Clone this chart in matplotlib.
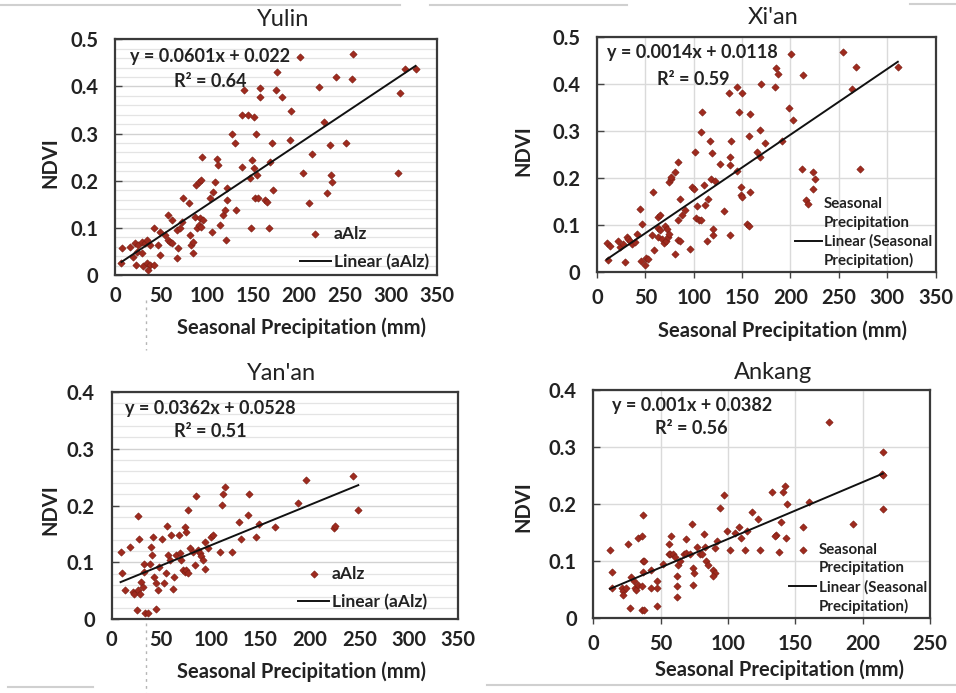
import numpy as np
import matplotlib.pyplot as plt
from matplotlib.lines import Line2D

plt.rcParams['font.family'] = ['Lato', 'DejaVu Sans']

# Yulin
yulin_precip = [8, 7, 16, 22, 25, 29, 33, 35, 38, 24, 29, 20, 23, 31, 35, 38, 42, 36, 49, 47,
                42, 49, 54, 58, 60, 62, 58, 62, 67, 71, 69, 67, 73, 74, 80, 82, 83, 85, 85, 87,
                89, 91, 93, 88, 91, 94, 95, 96, 94, 103, 105, 107, 109, 111, 112, 114, 118, 120, 122, 121,
                122, 127, 131, 132, 138, 138, 140, 145, 147, 148, 149, 151, 151, 152, 153, 154, 156, 158, 158, 163,
                165, 168, 171, 172, 175, 176, 201, 259, 240, 258, 316, 327, 182, 222, 310, 192, 227, 190, 234, 251,
                214, 169, 205, 235, 236, 308, 231, 211]
yulin_ndvi = [0.057, 0.025, 0.060, 0.067, 0.064, 0.071, 0.067, 0.074, 0.064, 0.049, 0.046, 0.039, 0.021, 0.018, 0.025, 0.021, 0.021, 0.011, 0.042, 0.064,
              0.099, 0.092, 0.085, 0.074, 0.071, 0.067, 0.127, 0.117, 0.095, 0.099, 0.057, 0.035, 0.113, 0.163, 0.152, 0.085, 0.064, 0.071, 0.046, 0.124,
              0.099, 0.106, 0.120, 0.191, 0.198, 0.201, 0.251, 0.117, 0.102, 0.163, 0.092, 0.177, 0.198, 0.247, 0.233, 0.106, 0.127, 0.138, 0.184, 0.074,
              0.159, 0.300, 0.279, 0.138, 0.230, 0.339, 0.392, 0.339, 0.205, 0.100, 0.244, 0.336, 0.226, 0.163, 0.300, 0.212, 0.163, 0.396, 0.378, 0.159,
              0.155, 0.100, 0.279, 0.180, 0.392, 0.431, 0.463, 0.468, 0.419, 0.415, 0.436, 0.436, 0.378, 0.399, 0.387, 0.348, 0.324, 0.286, 0.276, 0.279,
              0.256, 0.240, 0.216, 0.212, 0.197, 0.216, 0.173, 0.153]
yulin_fit = [0.0013, 0.0185]

# Xi'an
xian_precip = [10, 13.5, 11, 22, 24, 27, 31, 32, 34, 36, 39, 41, 29, 44.5, 46, 45.5, 50, 51, 53, 57,
               58, 59, 63.5, 65, 63.5, 65, 63.5, 67, 70, 72, 69, 71, 73, 74.5, 74, 76, 77, 81, 83.5, 81,
               83.5, 86, 86, 88, 84, 91, 96, 98, 100, 101, 103, 102, 105, 107, 108, 109, 111, 112, 113.5, 115,
               117, 118, 119, 119.5, 120, 122, 127, 131, 136, 137, 137, 138, 139, 145, 145, 147, 149, 150, 149, 150,
               155, 157, 158, 157, 158, 169, 170, 201, 254, 185, 187, 268, 311, 213, 183.5, 263.5, 199, 203, 174, 191,
               165, 169, 212, 223, 225, 271.5, 223, 216]
xian_ndvi = [0.061, 0.054, 0.025, 0.064, 0.053, 0.059, 0.073, 0.070, 0.066, 0.059, 0.063, 0.081, 0.021, 0.133, 0.102, 0.023, 0.013, 0.028, 0.026, 0.077,
             0.170, 0.045, 0.116, 0.120, 0.093, 0.088, 0.073, 0.070, 0.098, 0.091, 0.061, 0.066, 0.073, 0.081, 0.191, 0.198, 0.202, 0.213, 0.233, 0.038,
             0.068, 0.066, 0.155, 0.121, 0.109, 0.131, 0.048, 0.180, 0.177, 0.255, 0.140, 0.114, 0.109, 0.109, 0.298, 0.340, 0.185, 0.141, 0.066, 0.155,
             0.278, 0.198, 0.252, 0.077, 0.091, 0.193, 0.230, 0.129, 0.380, 0.227, 0.245, 0.077, 0.278, 0.393, 0.214, 0.340, 0.180, 0.380, 0.163, 0.159,
             0.102, 0.098, 0.335, 0.288, 0.170, 0.302, 0.400, 0.464, 0.468, 0.434, 0.421, 0.437, 0.437, 0.418, 0.393, 0.390, 0.348, 0.323, 0.275, 0.279,
             0.255, 0.245, 0.218, 0.213, 0.197, 0.218, 0.175, 0.153]
xian_fit = [0.0014, 0.0118]

# Yan'an
yanan_precip = [9, 10, 13, 19, 21.5, 23, 26.5, 27, 28, 29, 30, 31.5, 32.5, 33, 26, 34, 36.5, 45, 40, 41,
                39, 42, 43, 45, 47, 48, 51, 53, 55, 56, 57, 58.5, 60, 62, 63, 65, 67.5, 68.5, 70, 72,
                74, 75, 77, 74, 75, 77, 79, 82, 84, 85.5, 87, 89, 90.5, 92, 94, 94, 97, 100.5, 102, 109,
                111, 112, 114, 121, 129, 131, 137.5, 139, 146, 149, 164.5, 188, 196, 224, 226, 244, 249]
yanan_ndvi = [0.119, 0.081, 0.051, 0.127, 0.048, 0.045, 0.051, 0.181, 0.142, 0.045, 0.066, 0.057, 0.098, 0.084, 0.016, 0.011, 0.011, 0.019, 0.127, 0.113,
              0.098, 0.145, 0.075, 0.063, 0.051, 0.092, 0.142, 0.063, 0.081, 0.164, 0.113, 0.104, 0.148, 0.054, 0.075, 0.113, 0.148, 0.116, 0.104, 0.087,
              0.084, 0.087, 0.081, 0.163, 0.154, 0.192, 0.125, 0.119, 0.095, 0.217, 0.122, 0.116, 0.111, 0.104, 0.088, 0.136, 0.125, 0.145, 0.148, 0.119,
              0.201, 0.221, 0.233, 0.119, 0.171, 0.142, 0.183, 0.221, 0.145, 0.168, 0.163, 0.205, 0.244, 0.161, 0.164, 0.252, 0.192]
yanan_fit = [0.00071, 0.059]

# Ankang
ankang_precip = [12.4, 13.6, 13.6, 21, 22, 22, 24, 26, 27, 28, 30, 31, 32, 33, 36, 38, 33, 36, 37, 37,
                 38, 37, 36, 43, 43, 47, 47, 47, 52, 56, 56.5, 57.5, 57, 59, 61, 62.4, 62.4, 62.4, 63, 64.4,
                 67, 69, 69, 72, 73, 74, 75, 74, 77, 79, 80.5, 82, 83, 84, 85, 89, 90, 89, 90, 92,
                 94, 97, 99, 101.5, 105, 108, 110, 113, 114, 118, 122.5, 124, 175, 215, 214, 215, 215, 132.5, 140.5, 142,
                 144, 160, 139, 155.5, 192.6, 136, 135, 143, 138]
ankang_ndvi = [0.119, 0.081, 0.052, 0.052, 0.046, 0.040, 0.053, 0.129, 0.017, 0.071, 0.064, 0.052, 0.049, 0.058, 0.014, 0.014, 0.140, 0.143, 0.180, 0.099,
               0.100, 0.081, 0.055, 0.052, 0.084, 0.064, 0.052, 0.020, 0.094, 0.112, 0.129, 0.143, 0.111, 0.111, 0.106, 0.073, 0.056, 0.036, 0.093, 0.100,
               0.111, 0.139, 0.113, 0.112, 0.165, 0.087, 0.078, 0.058, 0.124, 0.111, 0.111, 0.147, 0.125, 0.099, 0.093, 0.084, 0.078, 0.073, 0.122, 0.134,
               0.193, 0.216, 0.152, 0.119, 0.149, 0.160, 0.140, 0.119, 0.152, 0.186, 0.173, 0.119, 0.344, 0.291, 0.252, 0.250, 0.191, 0.220, 0.221, 0.232,
               0.200, 0.204, 0.168, 0.160, 0.165, 0.146, 0.143, 0.140, 0.116]
ankang_fit = [0.001, 0.0382]

MARKER = '#9e2a1e'
EDGE = '#7a1d12'
TXT = '#222222'


def draw_panel(ax, title, px, py, fit, eq, r2, series, xmax, ymax, style, pos):
    px = np.array(px)
    py = np.array(py)
    ax.set_xlim(0, xmax)
    ax.set_ylim(0, ymax)
    ax.set_xticks(np.arange(0, xmax + 1, 50))

    if style == 'dense':
        ax.set_yticks(np.arange(0, ymax + 0.001, 0.02), minor=True)
        ax.grid(True, axis='y', which='minor', color='#e4e4e4', lw=0.9)
        ax.grid(True, axis='y', which='major', color='#d2d2d2', lw=1.0)
        ax.tick_params(axis='y', which='minor', length=0)
        ax.tick_params(axis='x', length=0)
    else:
        ax.grid(True, which='major', color='#dadada', lw=1.0)
        ax.tick_params(axis='x', direction='out', length=4, width=1, color='#444444')
    ax.set_axisbelow(True)

    pts = ax.scatter(px, py, marker='D', s=14, color=MARKER, edgecolor=EDGE, linewidth=0.4, zorder=3)
    xs = np.array([px.min(), px.max()])
    trend, = ax.plot(xs, fit[0] * xs + fit[1], color='#111111', lw=1.4, zorder=4)

    ax.tick_params(axis='y', which='major', direction='in', length=5, width=1, color='#444444')
    ax.set_yticks(np.arange(0, ymax + 0.001, 0.1))
    ax.set_yticklabels(['0'] + ['%.1f' % v for v in np.arange(0.1, ymax + 0.001, 0.1)])
    ax.set_xticklabels([str(v) for v in range(0, xmax + 1, 50)])
    for t in ax.get_xticklabels() + ax.get_yticklabels():
        t.set_fontweight('bold')
        t.set_fontsize(14.5)
        t.set_color(TXT)
    ax.tick_params(axis='y', pad=12)
    ax.tick_params(axis='x', pad=8)

    for s in ax.spines.values():
        s.set_color('#3a3a3a')
        s.set_linewidth(1.6)

    ax.text(pos['title'][0], pos['title'][1], title, transform=ax.transAxes, ha='center', va='center',
            fontsize=17, color=TXT)
    ax.set_xlabel('Seasonal Precipitation (mm)', fontsize=14.5, fontweight='bold', color=TXT, va='center')
    ax.xaxis.set_label_coords(*pos['xlabel'])
    ax.set_ylabel('NDVI', fontsize=14.5, fontweight='bold', color=TXT, va='center')
    ax.yaxis.set_label_coords(*pos['ylabel'])

    ax.text(pos['eq'][0], pos['eq'][1], eq, transform=ax.transAxes, ha='left', va='center',
            fontsize=13, fontweight='bold', color=TXT)
    ax.text(pos['r2'][0], pos['r2'][1], 'R² = ' + r2, transform=ax.transAxes, ha='center', va='center',
            fontsize=13, fontweight='bold', color=TXT)

    # long series names wrap onto a second legend row
    if ' ' in series:
        first, second = series.split(' ')
        blank = Line2D([], [], linestyle='none')
        handles = [pts, blank, trend, blank]
        labels = [first, second, 'Linear (' + first, second + ')']
    else:
        handles = [pts, trend]
        labels = [series, 'Linear (' + series + ')']
    leg = ax.legend(handles, labels, loc='lower right', bbox_to_anchor=pos['legend'], frameon=False,
                    handlelength=1.8, handletextpad=0.15, labelspacing=pos['spacing'],
                    borderaxespad=0, borderpad=0, scatteryoffsets=[0.4],
                    prop={'family': 'Lato', 'weight': 'bold', 'size': pos['legsize']})
    for t in leg.get_texts():
        t.set_color(TXT)


fig = plt.figure(figsize=(9.56, 6.93), dpi=100)

ax1 = fig.add_axes([0.1203, 0.6032, 0.3365, 0.3401])
draw_panel(ax1, 'Yulin', yulin_precip, yulin_ndvi, yulin_fit, 'y = 0.0601x + 0.022', '0.64', 'aAlz',
           350, 0.5, 'dense',
           {'title': (0.522, 1.082), 'xlabel': (0.581, -0.225), 'ylabel': (-0.202, 0.475),
            'eq': (0.047, 0.925), 'r2': (0.295, 0.823), 'legend': (0.975, 0.02),
            'spacing': 0.7, 'legsize': 12.5})

ax2 = fig.add_axes([0.6245, 0.6082, 0.3541, 0.3384])
draw_panel(ax2, "Xi'an", xian_precip, xian_ndvi, xian_fit, 'y = 0.0014x + 0.0118', '0.59',
           'Seasonal Precipitation', 350, 0.5, 'grid',
           {'title': (0.52, 1.085), 'xlabel': (0.549, -0.252), 'ylabel': (-0.219, 0.517),
            'eq': (0.03, 0.932), 'r2': (0.284, 0.82), 'legend': (0.99, 0.013),
            'spacing': 0.3, 'legsize': 10.8})

ax3 = fig.add_axes([0.1168, 0.1063, 0.3626, 0.3285])
draw_panel(ax3, "Yan'an", yanan_precip, yanan_ndvi, yanan_fit, 'y = 0.0362x + 0.0528', '0.51', 'aAlz',
           350, 0.4, 'dense',
           {'title': (0.491, 1.082), 'xlabel': (0.549, -0.232), 'ylabel': (-0.178, 0.48),
            'eq': (0.039, 0.928), 'r2': (0.284, 0.827), 'legend': (0.91, 0.04),
            'spacing': 0.7, 'legsize': 12.5})

ax4 = fig.add_axes([0.6206, 0.1087, 0.3522, 0.3285])
draw_panel(ax4, 'Ankang', ankang_precip, ankang_ndvi, ankang_fit, 'y = 0.001x + 0.0382', '0.56',
           'Seasonal Precipitation', 250, 0.4, 'grid',
           {'title': (0.534, 1.075), 'xlabel': (0.554, -0.23), 'ylabel': (-0.209, 0.486),
            'eq': (0.055, 0.934), 'r2': (0.29, 0.833), 'legend': (0.991, 0.016),
            'spacing': 0.3, 'legsize': 10.8})

# thin page edges and the dotted guide running down the left column
W, H = 956.0, 693.0
for x0, x1, yy in [(0, 400, 5), (430, 627, 5), (910, 956, 4), (8, 93, 687), (487, 956, 685)]:
    fig.add_artist(Line2D([x0 / W, x1 / W], [1 - yy / H, 1 - yy / H], color='#d0d0d0', lw=1.5, zorder=0))
for y0, y1 in [(300, 350), (623, 693)]:
    fig.add_artist(Line2D([146 / W, 146 / W], [1 - y0 / H, 1 - y1 / H], color='#b5b5b5', lw=1,
                          linestyle=(0, (2, 3)), zorder=0))

fig.savefig('out.png', dpi=100)
